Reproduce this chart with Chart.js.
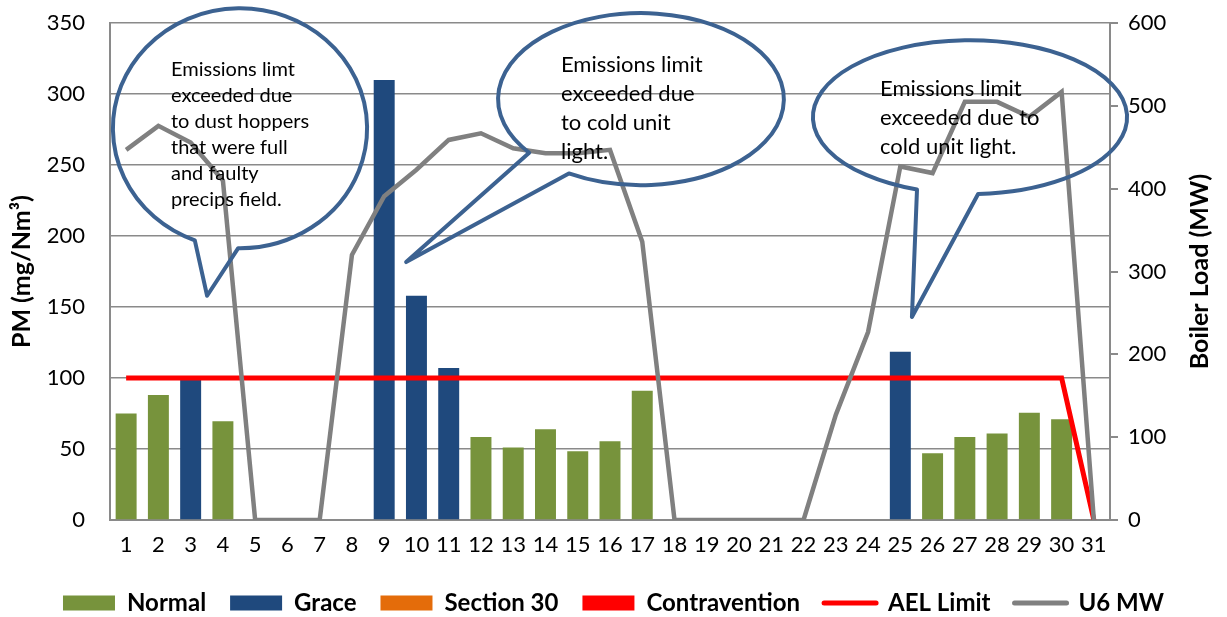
<!DOCTYPE html>
<html>
<head>
<meta charset="utf-8">
<script src="https://cdn.jsdelivr.net/npm/chart.js@4.4.1/dist/chart.umd.min.js"></script>
<style>
  body { margin: 0; background: #fff; }
  #wrap { width: 1227px; height: 617px; }
</style>
</head>
<body>
<div id="wrap"><canvas id="myChart"></canvas></div>
<script>
const CHART = document.getElementById("myChart");

const days = [];
for (let d = 1; d <= 31; d++) days.push(String(d));

const normal = [75, 88, null, 69.5, null, null, null, null, null, null, null,
  58.5, 51, 64, 48.5, 55.5, 91, null, null, null, null, null, null, null, null,
  47, 58.5, 61, 75.5, 71, null];
const grace = [null, null, 100, null, null, null, null, null, 310, 158, 107,
  null, null, null, null, null, null, null, null, null, null, null, null, null, 118.5,
  null, null, null, null, null, null];
const section30 = new Array(31).fill(null);
const contravention = new Array(31).fill(null);
const aelLimit = [100, 100, 100, 100, 100, 100, 100, 100, 100, 100, 100, 100, 100, 100, 100,
  100, 100, 100, 100, 100, 100, 100, 100, 100, 100, 100, 100, 100, 100, 100, 0];
const u6mw = [447, 476, 456, 410, 0, 0, 0, 320, 391, 423, 459, 467, 449, 443, 443,
  447, 336, 0, 0, 0, 0, 0, 127, 227, 427, 419, 505, 505, 487, 517, 0];

// speech bubbles: centre / radii in (category index, PM) units
const notes = [
  { cx: 3.53, cy: 276, rx: 3.94, ry: 84.5,
    base1: [2.04, 192], tip: [2.51, 158], base2: [3.47, 185],
    tx: 1.39, ty: 317, size: 20, gap: 26,
    lines: ["Emissions limt", "exceeded due", "to dust hoppers", "that were full", "and faulty", "precips field."] },
  { cx: 15.96, cy: 296.5, rx: 4.43, ry: 60.6,
    base1: [12.52, 259], tip: [8.68, 181.7], base2: [13.76, 245],
    tx: 13.48, ty: 320.4, size: 22, gap: 29,
    lines: ["Emissions limit", "exceeded due", "to cold unit", "light."] },
  { cx: 26.16, cy: 283.8, rx: 4.87, ry: 54.2,
    base1: [24.55, 233.8], tip: [24.36, 143], base2: [26.41, 230],
    tx: 23.37, ty: 303.5, size: 22, gap: 29,
    lines: ["Emissions limit", "exceeded due to", "cold unit light."] }
];

const FONT = "Lato";

const bubbles = {
  id: 'bubbles',
  afterDatasetsDraw(chart) {
    const ctx = chart.ctx, x = chart.scales.x, y = chart.scales.y;
    notes.forEach(n => {
      const cx = x.getPixelForValue(n.cx), cy = y.getPixelForValue(n.cy);
      const rx = Math.abs(x.getPixelForValue(n.cx + n.rx) - cx);
      const ry = Math.abs(y.getPixelForValue(n.cy + n.ry) - cy);
      const ang = p => Math.atan2((y.getPixelForValue(p[1]) - cy) / ry, (x.getPixelForValue(p[0]) - cx) / rx);
      ctx.save();
      ctx.strokeStyle = '#3c6291';
      ctx.lineWidth = 4;
      ctx.lineJoin = 'round';
      ctx.beginPath();
      ctx.ellipse(cx, cy, rx, ry, 0, ang(n.base1), ang(n.base2), false);
      ctx.lineTo(x.getPixelForValue(n.tip[0]), y.getPixelForValue(n.tip[1]));
      ctx.closePath();
      ctx.stroke();
      ctx.fillStyle = '#000';
      ctx.font = n.size + 'px ' + FONT;
      ctx.textAlign = 'left';
      ctx.textBaseline = 'middle';
      const tx = x.getPixelForValue(n.tx), ty = y.getPixelForValue(n.ty);
      n.lines.forEach((l, i) => ctx.fillText(l, tx, ty + i * n.gap));
      ctx.restore();
    });
    // right axis title, reading bottom to top
    const a = chart.chartArea;
    ctx.save();
    ctx.translate(1200, (a.top + a.bottom) / 2);
    ctx.rotate(-Math.PI / 2);
    ctx.font = 'bold 25px ' + FONT;
    ctx.fillStyle = '#000';
    ctx.textAlign = 'center';
    ctx.textBaseline = 'middle';
    ctx.fillText('Boiler Load (MW)', 0, 0);
    ctx.restore();
  }
};

const barStyle = { type: 'bar', grouped: false, barPercentage: 0.65, categoryPercentage: 1, order: 3, yAxisID: 'y' };

let combo = new Chart(CHART, {
  data: {
    labels: days,
    datasets: [
      Object.assign({ label: 'Normal', data: normal, backgroundColor: '#77933c' }, barStyle),
      Object.assign({ label: 'Grace', data: grace, backgroundColor: '#1f497d' }, barStyle),
      Object.assign({ label: 'Section 30', data: section30, backgroundColor: '#e46c0a' }, barStyle),
      Object.assign({ label: 'Contravention', data: contravention, backgroundColor: '#ff0000' }, barStyle),
      { type: 'line', label: 'AEL Limit', data: aelLimit, borderColor: '#ff0000', backgroundColor: '#ff0000',
        borderWidth: 5, pointRadius: 0, tension: 0, fill: false, order: 2, yAxisID: 'y' },
      { type: 'line', label: 'U6 MW', data: u6mw, borderColor: '#808080', backgroundColor: '#808080',
        borderWidth: 4.5, pointRadius: 0, tension: 0, fill: false, order: 1, yAxisID: 'y1' }
    ]
  },
  options: {
    responsive: true,
    maintainAspectRatio: false,
    animation: false,
    layout: { padding: { top: 0, right: 0, left: 0, bottom: 0 } },
    plugins: {
      tooltip: { enabled: false },
      legend: {
        position: 'bottom',
        maxHeight: 50,
        labels: {
          usePointStyle: true,
          pointStyleWidth: 52,
          boxWidth: 52,
          boxHeight: 15,
          padding: 24,
          color: '#000',
          font: { family: FONT, size: 24, weight: 'bold' },
          sort: (a, b) => a.datasetIndex - b.datasetIndex,
          generateLabels(chart) {
            const items = Chart.defaults.plugins.legend.labels.generateLabels(chart);
            items.forEach(it => {
              const ds = chart.data.datasets[it.datasetIndex];
              if (ds.type === 'line') {
                it.pointStyle = 'line';
                it.strokeStyle = ds.borderColor;
                it.lineWidth = 5;
                it.lineCap = 'round';
              } else {
                it.pointStyle = 'rect';
                it.lineWidth = 0;
                it.strokeStyle = 'rgba(0,0,0,0)';
              }
            });
            return items;
          }
        }
      }
    },
    scales: {
      x: {
        grid: { display: false, drawTicks: false },
        border: { display: true, color: '#8a8a8a', width: 2 },
        ticks: { color: '#000', font: { family: FONT, size: 22 }, autoSkip: false, maxRotation: 0, padding: 12 },
        afterFit(s) { s.height = 47; }
      },
      y: {
        position: 'left',
        min: 0, max: 350,
        ticks: { stepSize: 50, color: '#000', font: { family: FONT, size: 22 }, padding: 10 },
        grid: { color: '#8a8a8a', lineWidth: 1.5, drawTicks: true, tickLength: 15, tickColor: 'rgba(0,0,0,0)' },
        border: { color: '#8a8a8a', width: 2 },
        title: { display: true, text: 'PM (mg/Nm³)', color: '#000', font: { family: FONT, size: 25, weight: 'bold' }, padding: { top: 7, bottom: 0 } },
        afterFit(s) { s.width = 110; }
      },
      y1: {
        position: 'right',
        min: 0, max: 600,
        ticks: { stepSize: 100, color: '#000', font: { family: FONT, size: 22 }, padding: 10 },
        grid: { drawOnChartArea: false, color: '#8a8a8a', lineWidth: 2, tickLength: 8 },
        border: { color: '#8a8a8a', width: 2 },
        afterFit(s) { s.width = 117; }
      }
    }
  },
  plugins: [bubbles]
});
</script>
</body>
</html>
